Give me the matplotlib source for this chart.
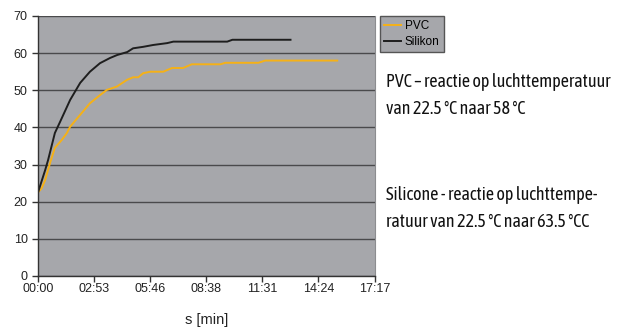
import matplotlib.pyplot as plt
from matplotlib.ticker import FuncFormatter, MultipleLocator

# measurement time (s) and temperature (°C)
pvc_t = [0, 11, 22, 37, 52, 73, 89, 99, 130, 160, 191, 212, 243, 274, 293, 309,
         324, 346, 386, 413, 447, 474, 562, 577, 679, 700, 922]
pvc_temp = [22.5, 23.6, 25.8, 30.4, 34.5, 36.6, 38.5, 40.2, 43.4, 46.5, 48.7, 50.1,
            51.0, 52.8, 53.5, 53.5, 54.6, 55.0, 55.0, 56.0, 56.0, 57.0, 57.0, 57.4,
            57.4, 58.0, 58.0]

sil_t = [0, 22, 31, 52, 68, 99, 130, 160, 191, 222, 244, 275, 293, 324, 355, 398,
         417, 583, 599, 778]
sil_temp = [22.5, 28.5, 31.2, 38.5, 41.5, 47.4, 52.0, 55.0, 57.3, 58.7, 59.5, 60.3,
            61.3, 61.7, 62.2, 62.7, 63.1, 63.1, 63.6, 63.6]

x_step = 172.8  # 0.002 day
x_max = 1036.8
y_max = 70

plt.rcParams["font.family"] = ["Liberation Sans", "DejaVu Sans"]

fig = plt.figure(figsize=(6.23, 3.29), dpi=100)
ax = fig.add_axes([38 / 623, 1 - 276 / 329, (374.5 - 38) / 623, (276 - 16) / 329])
ax.set_facecolor("#a6a7ab")

ax.plot(pvc_t, pvc_temp, color="#f5b117", lw=1.4, label="PVC")
ax.plot(sil_t, sil_temp, color="#1e1e1e", lw=1.4, label="Silikon")

ax.set_xlim(0, x_max)
ax.set_ylim(0, y_max)
ax.xaxis.set_major_locator(MultipleLocator(x_step))
ax.yaxis.set_major_locator(MultipleLocator(10))


def mmss(v, pos):
    s = int(round(v))
    return f"{s // 60:02d}:{s % 60:02d}"


ax.xaxis.set_major_formatter(FuncFormatter(mmss))
ax.grid(axis="y", color="#4a4a4c", lw=1.0)
ax.set_axisbelow(True)

ax.spines["top"].set_visible(False)
ax.spines["right"].set_color("#8c8d90")
ax.spines["right"].set_linewidth(0.8)
for side in ("left", "bottom"):
    ax.spines[side].set_color("#333333")
    ax.spines[side].set_linewidth(1.0)

ax.tick_params(axis="both", colors="#333333", labelcolor="#222222",
               labelsize=9, length=4, width=1)
ax.tick_params(axis="x", pad=1)
ax.set_xlabel("s [min]", fontsize=10.5, color="#222222", labelpad=13)

leg = ax.legend(loc="upper left", bbox_to_anchor=(1.015, 1.0), fontsize=8.5,
                frameon=True, fancybox=False, handlelength=1.5, handletextpad=0.3,
                borderpad=0.35, labelspacing=0.3, borderaxespad=0.0)
leg.get_frame().set_facecolor("#a6a7ab")
leg.get_frame().set_edgecolor("#555555")
leg.get_frame().set_linewidth(1.0)
leg.get_frame().set_alpha(1)

note = dict(fontsize=13, color="#111111", family=["Asap Condensed", "DejaVu Sans"],
            ha="left", va="baseline")
fig.text(386 / 623, 1 - 87 / 329, "PVC – reactie op luchttemperatuur", **note)
fig.text(386 / 623, 1 - 114 / 329, "van 22.5 °C naar 58 °C", **note)
fig.text(386 / 623, 1 - 200 / 329, "Silicone - reactie op luchttempe-", **note)
fig.text(386 / 623, 1 - 227 / 329, "ratuur van 22.5 °C naar 63.5 °CC", **note)

fig.savefig("out.png", dpi=100)
